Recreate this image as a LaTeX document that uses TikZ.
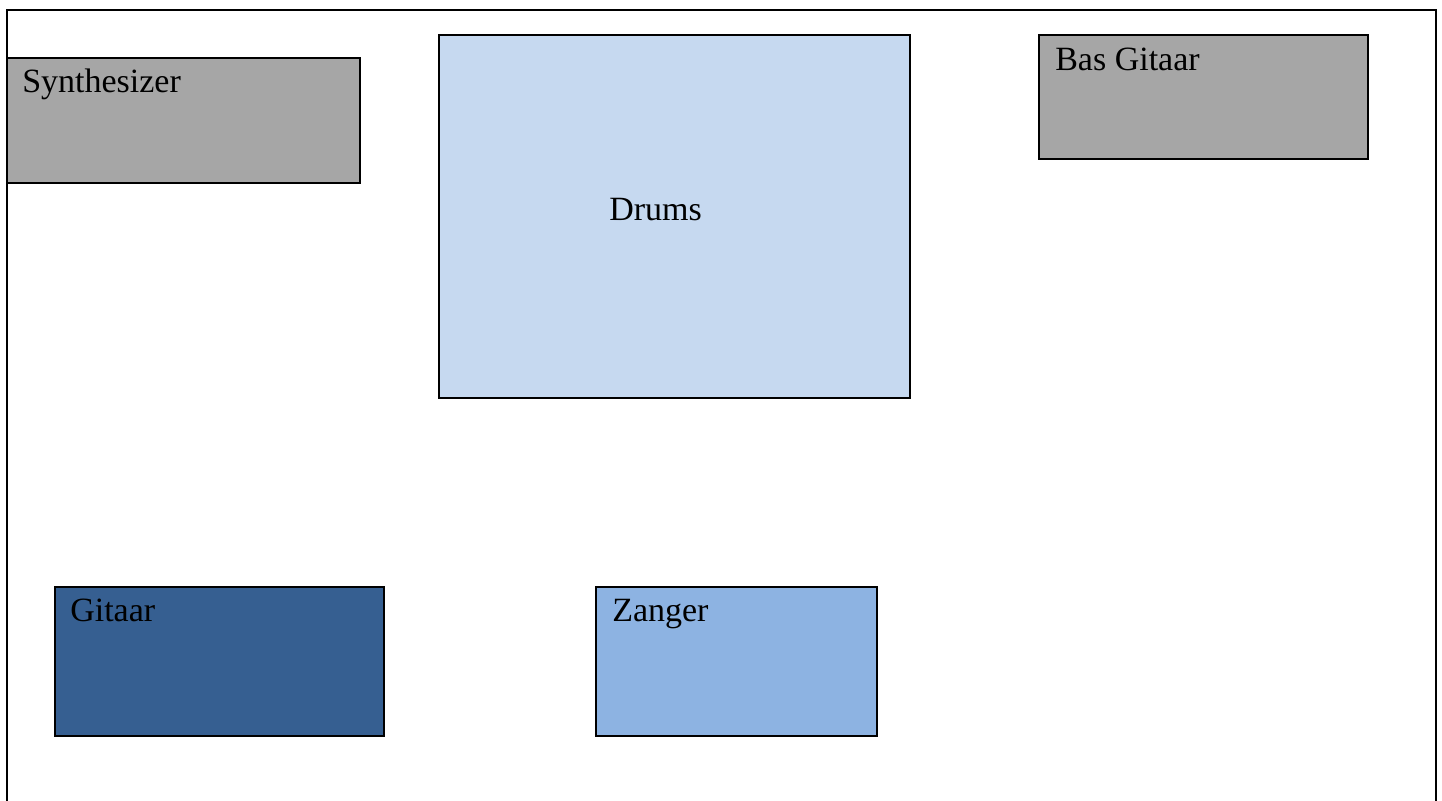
\documentclass[tikz,border=0pt]{standalone}
\usepackage{fontspec}
\setmainfont{Liberation Serif}
\usetikzlibrary{calc}
\definecolor{boxgray}{HTML}{A6A6A6}
\definecolor{drumblue}{HTML}{C6D9F0}
\definecolor{gitblue}{HTML}{365F91}
\definecolor{zangblue}{HTML}{8DB3E2}
\begin{document}
\begin{tikzpicture}[x=0.75pt,y=-0.75pt,
  frame/.style={draw=black,line width=1.5pt},
  box/.style={draw=black,line width=1.5pt,rectangle,inner sep=0pt,outer sep=0pt,anchor=north west},
  lbl/.style={anchor=base west,inner sep=0pt,font=\fontsize{25.5pt}{30pt}\selectfont,text=black}]
\useasboundingbox (0,0) rectangle (1442,800);
\fill[white] (0,0) rectangle (1442,800);
\draw[frame] (7,10) rectangle (1436,815);
\node[box,fill=boxgray,minimum width=353*0.75pt,minimum height=125*0.75pt] (synth) at (7,58) {};
\node[box,fill=drumblue,minimum width=471*0.75pt,minimum height=363*0.75pt] (drums) at (439,35) {};
\node[box,fill=boxgray,minimum width=329*0.75pt,minimum height=124*0.75pt] (bas) at (1039,35) {};
\node[box,fill=gitblue,minimum width=329*0.75pt,minimum height=149*0.75pt] (gitaar) at (55,587) {};
\node[box,fill=zangblue,minimum width=281*0.75pt,minimum height=149*0.75pt] (zanger) at (596,587) {};
\node[lbl] (tsynth) at ($(synth.north west)+(15,34)$) {Synthesizer};
\node[lbl] (tdrums) at ($(drums.north west)+(170,185)$) {Drums};
\node[lbl] (tbas) at ($(bas.north west)+(16,35)$) {Bas Gitaar};
\node[lbl] (tgit) at ($(gitaar.north west)+(15,34)$) {Gitaar};
\node[lbl] (tzang) at ($(zanger.north west)+(16,34)$) {Zanger};
\end{tikzpicture}
\end{document}
